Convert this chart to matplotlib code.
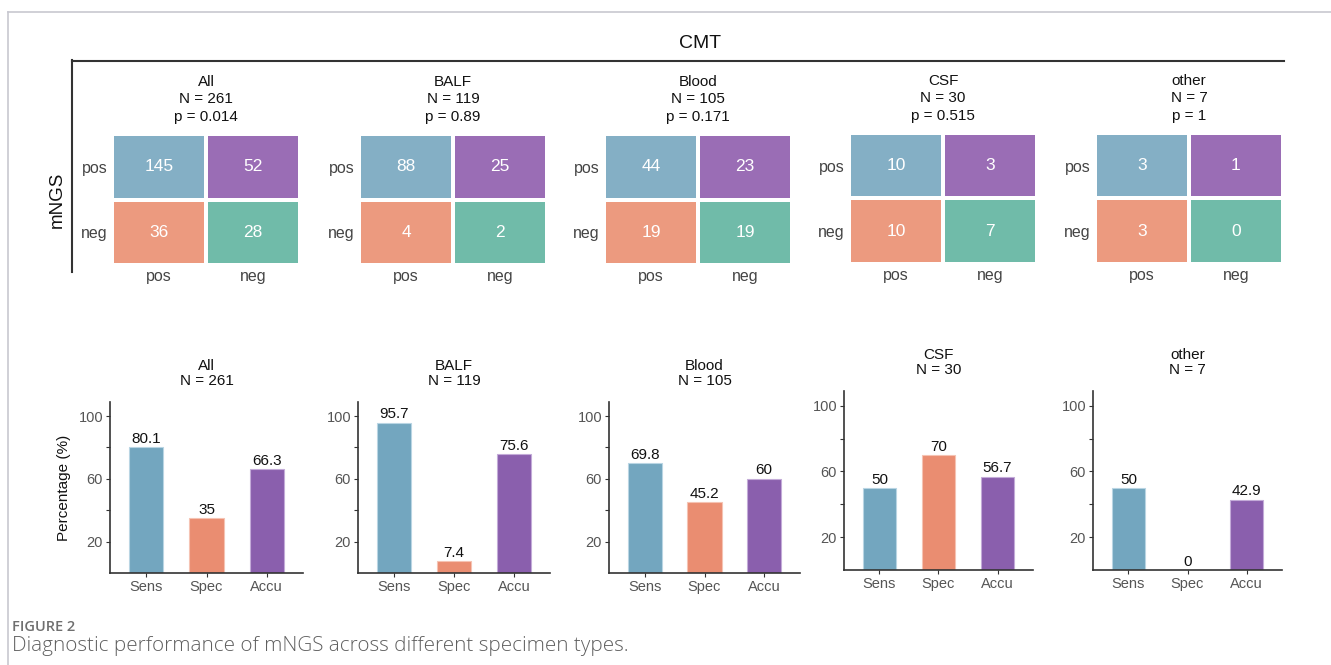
import matplotlib
matplotlib.use("Agg")
import matplotlib.pyplot as plt
from matplotlib.colors import ListedColormap
from matplotlib.lines import Line2D
import numpy as np

plt.rcParams['font.family'] = ['Liberation Sans', 'DejaVu Sans']

# ---------------- data ----------------
groups = ["All", "BALF", "Blood", "CSF", "other"]
n_values = [261, 119, 105, 30, 7]
p_values = ["0.014", "0.89", "0.171", "0.515", "1"]
row_labels = ["pos", "neg"]   # mNGS
col_labels = ["pos", "neg"]   # CMT
counts_all = [[145, 52], [36, 28]]
counts_balf = [[88, 25], [4, 2]]
counts_blood = [[44, 23], [19, 19]]
counts_csf = [[10, 3], [10, 7]]
counts_other = [[3, 1], [3, 0]]
counts = [counts_all, counts_balf, counts_blood, counts_csf, counts_other]

metrics = ["Sens", "Spec", "Accu"]
perf_all = [80.1, 35, 66.3]
perf_balf = [95.7, 7.4, 75.6]
perf_blood = [69.8, 45.2, 60]
perf_csf = [50, 70, 56.7]
perf_other = [50, 0, 42.9]
perf = [perf_all, perf_balf, perf_blood, perf_csf, perf_other]

# ---------------- style ----------------
heat_colors = ["#84AFC5", "#9A6DB5", "#EC9A7F", "#70BBA9"]  # TP, FP, FN, TN
bar_colors = ["#73A6BF", "#EA8D71", "#8A5FAD"]
bar_edges = ["#B9D5E3", "#F5C3B3", "#C3ABD8"]

W, H = 1331, 665
fig = plt.figure(figsize=(W / 100, H / 100), dpi=100)


def px_axes(x0, y0, x1, y1):
    return fig.add_axes([x0 / W, 1 - y1 / H, (x1 - x0) / W, (y1 - y0) / H])


# frame
fig.add_artist(Line2D([8 / W, 1], [1 - 12 / H, 1 - 12 / H], transform=fig.transFigure,
                      color="#C8C8D0", lw=1.2))
fig.add_artist(Line2D([8 / W, 8 / W], [1 - 12 / H, 0], transform=fig.transFigure,
                      color="#C8C8D0", lw=1.2))

# CMT header line and mNGS line
fig.add_artist(Line2D([72 / W, 1284 / W], [1 - 61 / H, 1 - 61 / H], transform=fig.transFigure,
                      color="#333333", lw=1.5))
fig.add_artist(Line2D([72 / W, 72 / W], [1 - 60 / H, 1 - 272 / H], transform=fig.transFigure,
                      color="#333333", lw=1.5))
fig.text(700 / W, 1 - 44 / H, "CMT", ha="center", va="center", fontsize=14, color="#111111")
fig.text(57 / W, 1 - 200 / H, "mNGS", ha="center", va="center", rotation=90,
         fontsize=13.5, color="#111111")

# ---------------- heatmaps ----------------
heat_left = [112, 359, 604, 849, 1095]
heat_top = [134, 134, 134, 133, 133]
cmap = ListedColormap(heat_colors)
idx = np.array([[0, 1], [2, 3]])
for i, g in enumerate(groups):
    x0 = heat_left[i]
    y0 = heat_top[i]
    ax = px_axes(x0, y0, x0 + 188, y0 + 131)
    ax.pcolormesh(np.arange(3), np.arange(3), idx, cmap=cmap, vmin=-0.5, vmax=3.5,
                  edgecolors="white", linewidth=1.5)
    ax.set_xlim(0, 2)
    ax.set_ylim(2, 0)
    for r in range(2):
        for c in range(2):
            ax.text(c + 0.5, r + 0.5, str(counts[i][r][c]), ha="center", va="center",
                    color="white", fontsize=12.5)
    ax.set_xticks([0.5, 1.5])
    ax.set_xticklabels(col_labels)
    ax.set_yticks([0.5, 1.5])
    ax.set_yticklabels(row_labels)
    ax.tick_params(length=0, labelsize=11.5, colors="#444444", pad=3)
    for s in ax.spines.values():
        s.set_visible(False)
    ax.set_title(f"{g}\nN = {n_values[i]}\np = {p_values[i]}", fontsize=11,
                 color="#111111", pad=9.5, linespacing=1.32)

# ---------------- bar charts ----------------
bar_left = [110, 358, 609, 844, 1093]
bar_right = [303, 550, 800, 1033, 1282]
bar_top = [402, 402, 402, 391, 391]
bar_bottom = [573, 573, 573, 570, 570]
x = np.arange(len(metrics))
for i, g in enumerate(groups):
    ax = px_axes(bar_left[i], bar_top[i], bar_right[i], bar_bottom[i])
    bars = ax.bar(x, perf[i], width=0.57, color=bar_colors, edgecolor=bar_edges, linewidth=0.8)
    ax.bar_label(bars, fmt="%g", padding=1, fontsize=11, color="#111111")
    ax.set_xlim(-0.6, 2.6)
    ax.set_ylim(0, 109)
    ax.set_yticks([20, 40, 60, 80, 100])
    ax.set_yticklabels(["20", "", "60", "", "100"])
    ax.set_xticks(x)
    ax.set_xticklabels(metrics)
    ax.tick_params(axis="both", length=3, width=0.8, colors="#333333", labelsize=10.5,
                   labelcolor="#555555", pad=2)
    for s in ["top", "right"]:
        ax.spines[s].set_visible(False)
    for s in ["left", "bottom"]:
        ax.spines[s].set_color("#333333")
        ax.spines[s].set_linewidth(1.2)
    ax.set_title(f"{g}\nN = {n_values[i]}", fontsize=11, color="#111111", pad=12,
                 linespacing=1.15)
    if i == 0:
        ax.set_ylabel("Percentage (%)", fontsize=11, color="#111111", labelpad=5)

# ---------------- caption ----------------
fig.text(12 / W, 1 - 627 / H, "FIGURE 2", ha="left", va="center", fontsize=10.5,
         color="#6F6F6F", fontweight="semibold", family=["Open Sans", "DejaVu Sans"])
fig.text(12 / W, 1 - 646 / H, "Diagnostic performance of mNGS across different specimen types.",
         ha="left", va="center", fontsize=14.9, color="#5F5F5F", fontweight="light",
         family=["Open Sans", "DejaVu Sans"])

fig.savefig("out.png", dpi=100)
